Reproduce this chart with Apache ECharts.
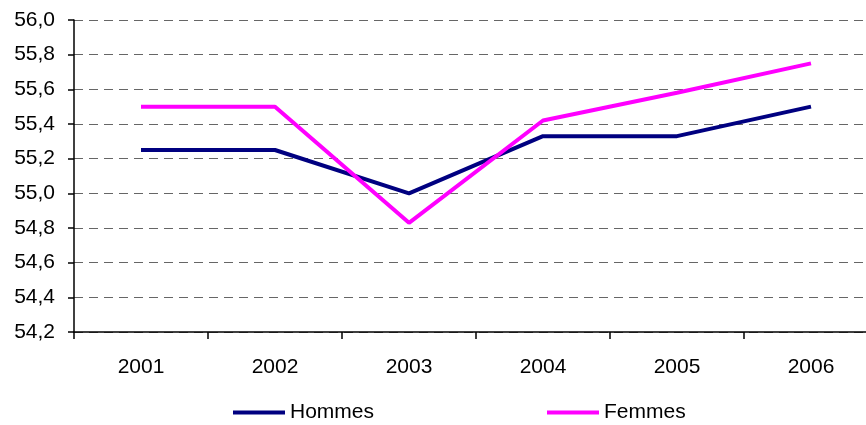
<!DOCTYPE html>
<html>
<head>
<meta charset="utf-8">
<script src="https://cdn.jsdelivr.net/npm/echarts@6/dist/echarts.min.js"></script>
<style>
  html, body { margin: 0; padding: 0; background: #fff; overflow: hidden; }
  #chart { width: 880px; height: 425px; }
</style>
</head>
<body>
<div id="chart"></div>
<script>
// données
var years = ["2001", "2002", "2003", "2004", "2005", "2006"];
var hommes = [55.25, 55.25, 55.0, 55.33, 55.33, 55.5];
var femmes = [55.5, 55.5, 54.83, 55.42, 55.58, 55.75];
var yMin = 54.2, yMax = 56.0, yStep = 0.2;

(function () {
  var myChart = echarts.init(document.getElementById('chart'));
  var font = "'Liberation Sans', Arial, sans-serif";
  var option = {
    animation: false,
    textStyle: { fontFamily: font },
    grid: {
      left: 74,
      top: 20,
      right: 2,
      bottom: 93,
      containLabel: false
    },
    legend: {
      left: 233,
      top: 402,
      padding: 0,
      icon: 'rect',
      itemWidth: 52,
      itemHeight: 4,
      itemGap: 173,
      textStyle: { color: '#000', fontSize: 21, fontFamily: font },
      data: ['Hommes', 'Femmes']
    },
    xAxis: {
      type: 'category',
      data: years,
      boundaryGap: true,
      axisLine: { lineStyle: { color: '#000', width: 1.5 } },
      axisTick: { show: true, length: 7, lineStyle: { color: '#000', width: 1.5 } },
      axisLabel: { color: '#000', fontSize: 21, margin: 25, fontFamily: font }
    },
    yAxis: {
      type: 'value',
      min: yMin,
      max: yMax,
      interval: yStep,
      axisLine: { show: true, lineStyle: { color: '#000', width: 1.5 } },
      axisTick: { show: true, length: 6, lineStyle: { color: '#000', width: 1.5 } },
      axisLabel: {
        color: '#000',
        fontSize: 21,
        margin: 19,
        fontFamily: font,
        formatter: function (v) { return v.toFixed(1).replace('.', ','); }
      },
      splitLine: {
        show: true,
        lineStyle: { color: '#666', type: [9, 6], width: 1 }
      }
    },
    series: [
      {
        name: 'Hommes',
        type: 'line',
        data: hommes,
        symbol: 'none',
        color: '#000080',
        lineStyle: { color: '#000080', width: 4 }
      },
      {
        name: 'Femmes',
        type: 'line',
        data: femmes,
        symbol: 'none',
        color: '#ff00ff',
        lineStyle: { color: '#ff00ff', width: 4 }
      }
    ]
  };
  myChart.setOption(option);
  window.addEventListener('resize', function () {
    myChart.resize();
  });
})();
</script>
</body>
</html>
